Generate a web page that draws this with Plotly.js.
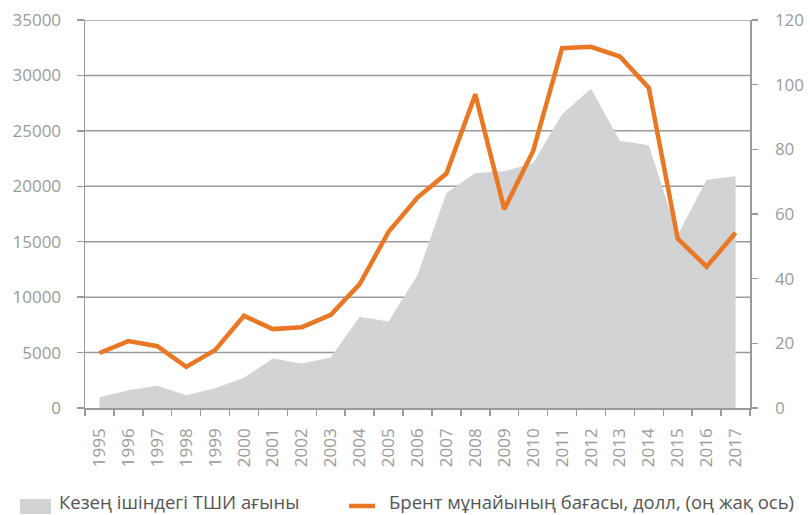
<!DOCTYPE html>
<html>
<head>
<meta charset="utf-8">
<script src="https://cdn.plot.ly/plotly-3.0.1.min.js"></script>
<style>html,body{margin:0;padding:0;background:#fff;}#chart{width:810px;height:515px;}</style>
</head>
<body>
<div id="chart"></div>
<script>
const years = ['1995','1996','1997','1998','1999','2000','2001','2002','2003','2004','2005','2006','2007','2008','2009','2010','2011','2012','2013','2014','2015','2016','2017'];
const fdiInflow = [960, 1600, 2000, 1150, 1780, 2740, 4460, 4010, 4550, 8230, 7800, 12000, 19400, 21200, 21350, 22100, 26500, 28800, 24100, 23700, 15600, 20600, 20900];
const brentPrice = [17.0, 20.7, 19.1, 12.7, 17.9, 28.5, 24.4, 25.0, 28.8, 38.3, 54.5, 65.1, 72.5, 97.0, 61.5, 79.5, 111.3, 111.7, 108.7, 99.0, 52.4, 43.7, 54.2];
const seriesNames = ['Кезең ішіндегі ТШИ ағыны', 'Брент мұнайының бағасы, долл, (оң жақ ось)'];
const leftTicks = [0, 5000, 10000, 15000, 20000, 25000, 30000, 35000];
const rightTicks = [0, 20, 40, 60, 80, 100, 120];

const grey = '#d1d3d4';
const orange = '#ea7724';
const axisGrey = '#9a9a9a';
const labelGrey = '#9b9b9b';
const font = 'Open Sans, Noto Sans, sans-serif';

const traces = [
  {x: years, y: fdiInflow, type: 'scatter', mode: 'none', fill: 'tozeroy', fillcolor: grey, name: seriesNames[0], yaxis: 'y'},
  {x: years, y: brentPrice, type: 'scatter', mode: 'lines', line: {color: orange, width: 4.5}, name: seriesNames[1], yaxis: 'y2'}
];

// px -> paper helpers for the hand-made legend
const L = 85, R = 750, T = 20, B = 408;
const px = v => (v - L) / (R - L);
const py = v => (B - v) / (B - T);

// horizontal grid drawn beneath the area (left-axis ticks)
const gridShapes = leftTicks.filter(v => v > 0).map(v => ({
  type: 'line', xref: 'paper', yref: 'y', x0: 0, x1: 1, y0: v, y1: v,
  layer: 'below', line: {color: axisGrey, width: 1.5}
}));

const layout = {
  width: 810, height: 515,
  margin: {l: L, r: 810 - R, t: T, b: 515 - B},
  paper_bgcolor: '#fff', plot_bgcolor: '#fff',
  showlegend: false,
  font: {family: font, size: 17, color: labelGrey},
  xaxis: {
    type: 'category', range: [-0.5, 22.5], tickson: 'boundaries',
    ticks: 'outside', ticklen: 6, tickwidth: 1.5, tickcolor: axisGrey,
    showline: true, linecolor: axisGrey, linewidth: 1.5,
    showgrid: false, tickangle: -90, ticklabelstandoff: 12,
    tickfont: {family: font, size: 17, color: labelGrey}
  },
  yaxis: {
    range: [0, 35000], tickvals: leftTicks, ticktext: leftTicks.map(String),
    ticks: 'outside', ticklen: 7, tickwidth: 1.5, tickcolor: axisGrey,
    showline: true, linecolor: axisGrey, linewidth: 1.5,
    showgrid: false, zeroline: false,
    ticklabelstandoff: 12,
    tickfont: {family: font, size: 17, color: labelGrey}
  },
  yaxis2: {
    range: [0, 120], tickvals: rightTicks, ticktext: rightTicks.map(String),
    overlaying: 'y', side: 'right',
    ticks: 'outside', ticklen: 6, tickwidth: 1.5, tickcolor: axisGrey,
    showline: true, linecolor: axisGrey, linewidth: 1.5,
    showgrid: false, zeroline: false, ticklabelstandoff: 14,
    tickfont: {family: font, size: 17, color: labelGrey}
  },
  shapes: gridShapes.concat([
    {type: 'rect', xref: 'paper', yref: 'paper', x0: px(20), x1: px(51), y0: py(499), y1: py(514), fillcolor: grey, line: {width: 0}},
    {type: 'line', xref: 'paper', yref: 'paper', x0: px(349), x1: px(375), y0: py(506), y1: py(506), line: {color: orange, width: 4.5}}
  ]),
  annotations: [
    {xref: 'paper', yref: 'paper', x: px(58), y: py(501), xanchor: 'left', yanchor: 'middle', showarrow: false, borderpad: 0, text: seriesNames[0], font: {family: font, size: 18.5, color: '#555555'}},
    {xref: 'paper', yref: 'paper', x: px(388), y: py(501), xanchor: 'left', yanchor: 'middle', showarrow: false, borderpad: 0, text: seriesNames[1], font: {family: font, size: 18.5, color: '#555555'}}
  ]
};

Plotly.newPlot('chart', traces, layout, {displayModeBar: false, staticPlot: true});
</script>
</body>
</html>
